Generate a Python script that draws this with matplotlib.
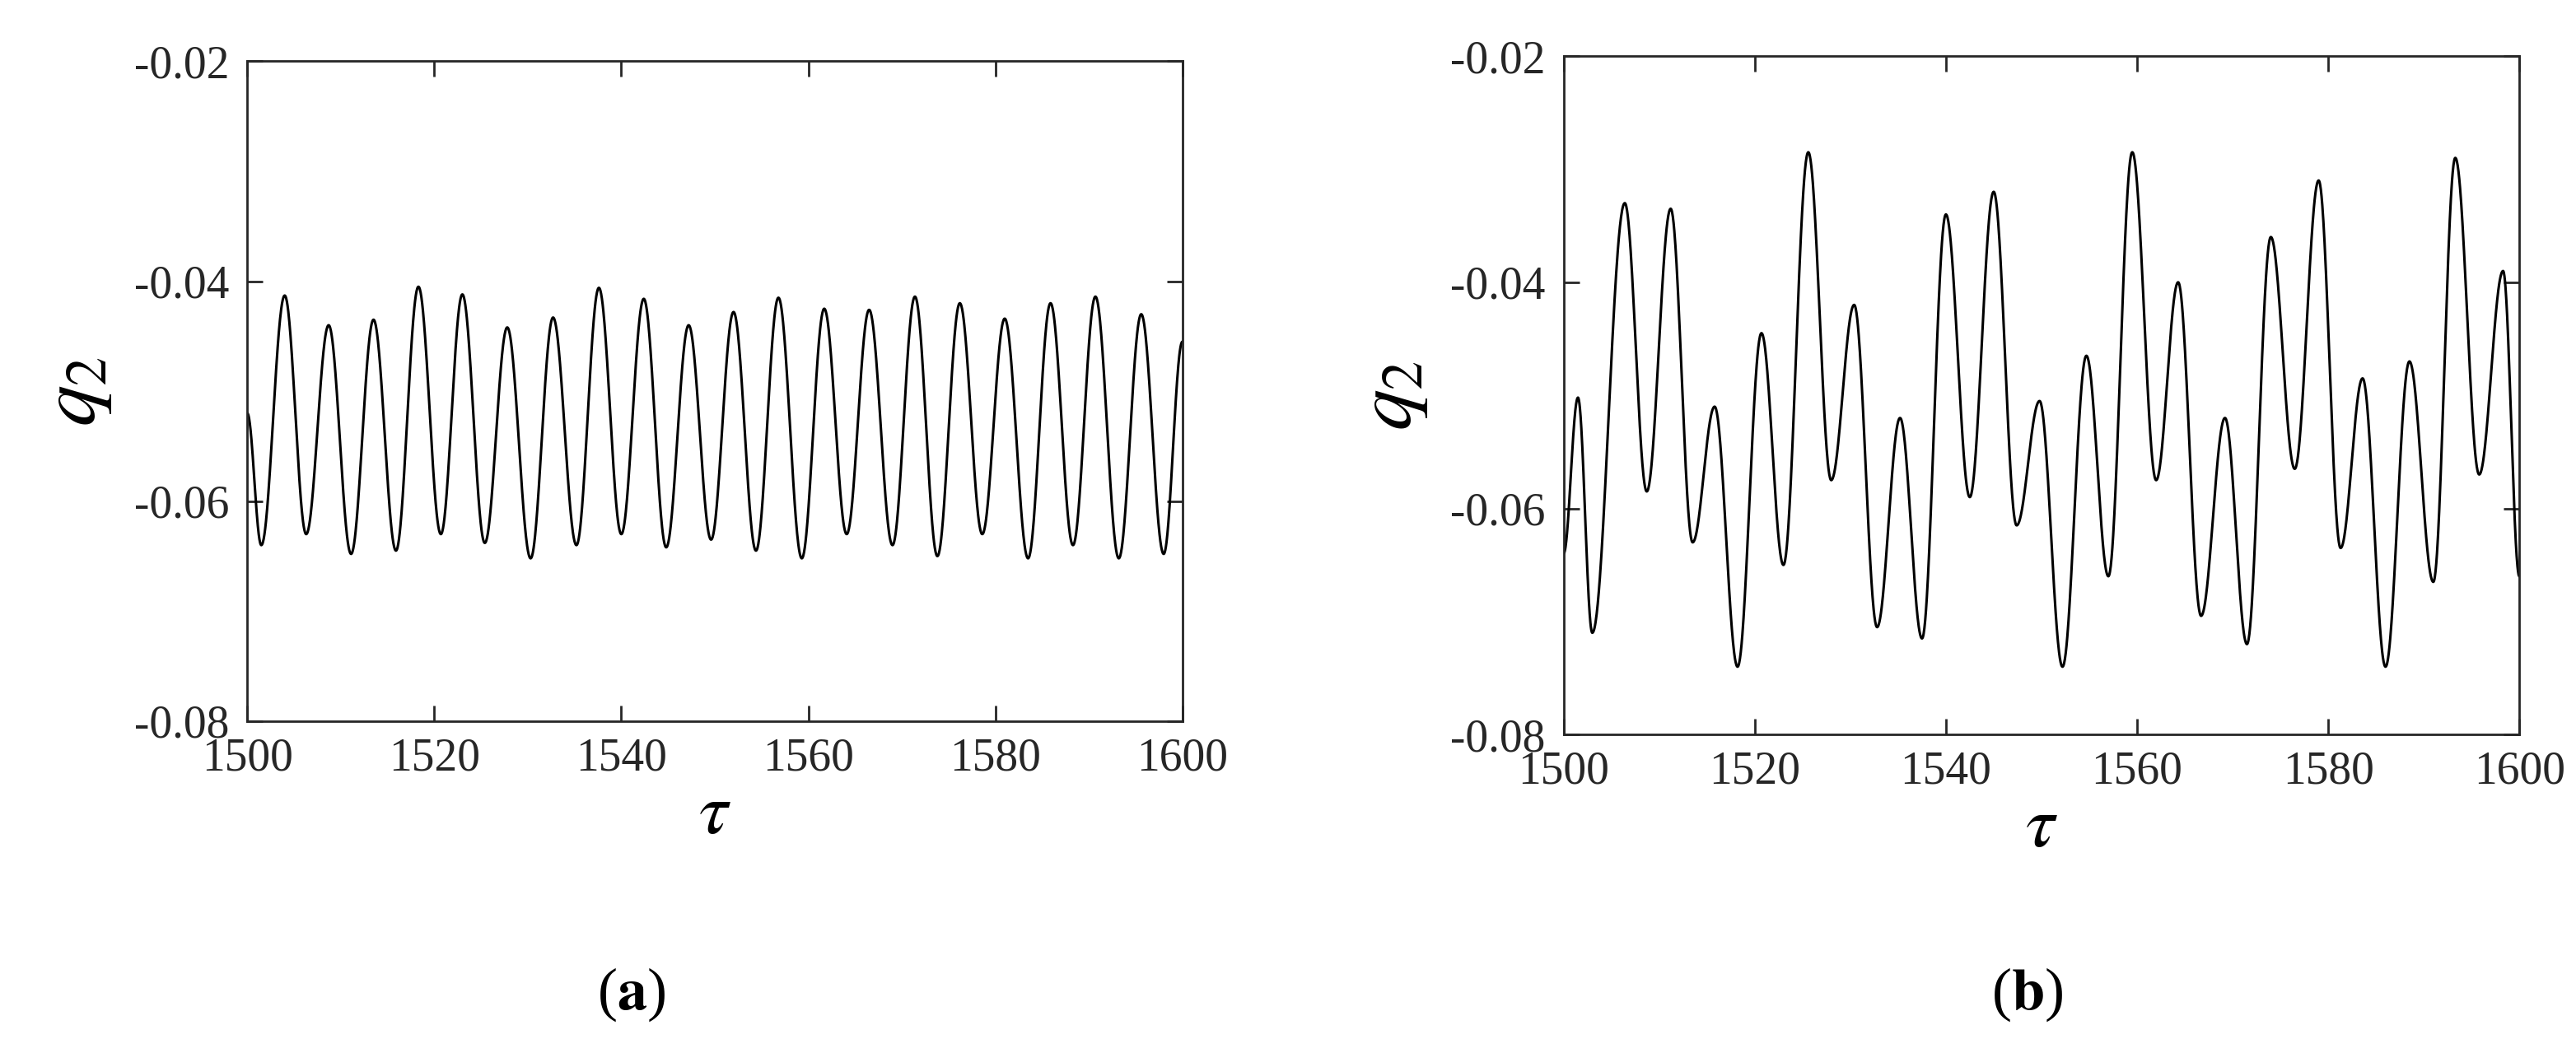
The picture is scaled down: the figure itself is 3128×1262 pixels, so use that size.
import numpy as np
import matplotlib
matplotlib.use("Agg")
import matplotlib.pyplot as plt

plt.rcParams["font.family"] = ["Liberation Serif", "DejaVu Serif"]
plt.rcParams["mathtext.fontset"] = "stix"

# extrema (tau, q2), including the end points
a_tau = [1500, 1501.5, 1504.0, 1506.3, 1508.7, 1511.1, 1513.5, 1515.9, 1518.3, 1520.7,
         1523.0, 1525.4, 1527.8, 1530.3, 1532.7, 1535.2, 1537.6, 1540.0, 1542.4, 1544.8,
         1547.2, 1549.6, 1552.0, 1554.4, 1556.8, 1559.3, 1561.7, 1564.1, 1566.5, 1569.0,
         1571.4, 1573.8, 1576.2, 1578.6, 1581.0, 1583.5, 1585.9, 1588.3, 1590.7, 1593.2,
         1595.6, 1598.0, 1600]
a_q2 = [-0.052, -0.0640, -0.0413, -0.0630, -0.0440, -0.0648, -0.0435, -0.0645, -0.0405, -0.0630,
        -0.0412, -0.0638, -0.0442, -0.0652, -0.0433, -0.0640, -0.0406, -0.0630, -0.0416, -0.0642,
        -0.0440, -0.0635, -0.0428, -0.0645, -0.0415, -0.0652, -0.0425, -0.0630, -0.0426, -0.0640,
        -0.0414, -0.0650, -0.0420, -0.0630, -0.0434, -0.0652, -0.0420, -0.0640, -0.0414, -0.0652,
        -0.0430, -0.0648, -0.0455]

b_tau = [1500, 1501.5, 1503.0, 1506.4, 1508.7, 1511.2, 1513.5, 1515.8, 1518.2, 1520.7,
         1523.0, 1525.6, 1528.0, 1530.4, 1532.8, 1535.2, 1537.5, 1540.0, 1542.5, 1545.0,
         1547.4, 1549.8, 1552.2, 1554.7, 1557.0, 1559.5, 1562.0, 1564.3, 1566.7, 1569.2,
         1571.5, 1574.0, 1576.5, 1579.0, 1581.3, 1583.6, 1586.0, 1588.5, 1591.0, 1593.3,
         1595.8, 1598.3, 1600]
b_q2 = [-0.064, -0.0502, -0.0710, -0.0330, -0.0585, -0.0335, -0.0630, -0.0510, -0.0740, -0.0445,
        -0.0650, -0.0285, -0.0575, -0.0420, -0.0705, -0.0520, -0.0715, -0.0340, -0.0590, -0.0320,
        -0.0615, -0.0505, -0.0740, -0.0465, -0.0660, -0.0285, -0.0575, -0.0400, -0.0695, -0.0520,
        -0.0720, -0.0360, -0.0565, -0.0310, -0.0635, -0.0485, -0.0740, -0.0470, -0.0665, -0.0290,
        -0.0570, -0.0390, -0.0660]

x_ticks = [1500, 1520, 1540, 1560, 1580, 1600]
y_ticks = [-0.08, -0.06, -0.04, -0.02]


def smooth(taus, vals, n=60):
    """Join consecutive extrema with half-cosine segments."""
    xs, ys = [], []
    for i in range(len(taus) - 1):
        s = np.linspace(0, 1, n, endpoint=False)
        w = (1 - np.cos(np.pi * s)) / 2
        xs.append(taus[i] + (taus[i + 1] - taus[i]) * s)
        ys.append(vals[i] + (vals[i + 1] - vals[i]) * w)
    xs.append([taus[-1]])
    ys.append([vals[-1]])
    return np.concatenate(xs), np.concatenate(ys)


fig = plt.figure(figsize=(31.28, 12.62), dpi=100)
axes = [fig.add_axes([0.096, 0.306, 0.363, 0.635]),
        fig.add_axes([0.607, 0.293, 0.371, 0.653])]

for ax, (t, q), lab, lx in zip(axes, [(a_tau, a_q2), (b_tau, b_q2)], ["a", "b"], [0.245, 0.787]):
    x, y = smooth(t, q)
    ax.plot(x, y, color="black", linewidth=2.2)
    ax.set_xlim(1500, 1600)
    ax.set_ylim(-0.08, -0.02)
    ax.set_xticks(x_ticks)
    ax.set_yticks(y_ticks)
    ax.set_yticklabels([f"{v:.2f}" for v in y_ticks])
    ax.tick_params(direction="in", length=14, width=2, labelsize=40, colors="#262626",
                   top=True, right=True)
    ax.tick_params(axis="x", pad=14)
    ax.tick_params(axis="y", pad=16)
    for sp in ax.spines.values():
        sp.set_linewidth(2)
        sp.set_color("#262626")
    ax.set_xlabel(r"$\tau$", fontsize=64, labelpad=2)
    ax.set_ylabel(r"$q_2$", fontsize=72, labelpad=18)
    fig.text(lx, 0.043, r"($\mathbf{" + lab + r"}$)", fontsize=52, ha="center", va="center")

fig.savefig("out.png", dpi=100)
